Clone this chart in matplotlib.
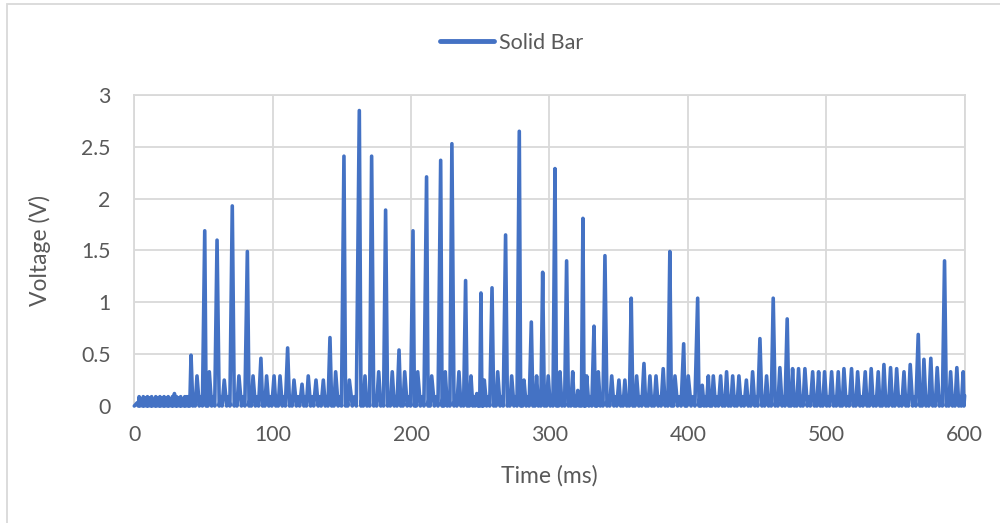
import matplotlib
matplotlib.use("Agg")
import matplotlib.pyplot as plt
from matplotlib.patches import Rectangle
from matplotlib.lines import Line2D

# ---- data (peak time in ms, peak voltage in V) ----
peak_t = [2, 5, 8, 11, 14, 17, 20, 23, 26, 29, 32, 35, 38,
          41.0, 45.3, 50.9, 54.2, 59.8, 65.0, 70.8, 75.6, 81.7, 85.8, 91.5, 95.6,
          101, 105.3, 110.8, 115.4, 121.2, 125.7, 131.3, 136.6, 141.4, 145.5,
          151.5, 155.4, 162.6, 166.7, 171.5, 176.6, 181.6, 186.4, 191.3, 195.4,
          201.4, 204.8, 211.2, 214.9, 221.4, 224.7, 229.5, 234.6, 239.4, 243.3,
          247.5, 250.5, 252.9, 258.5, 262.6, 268.3, 272.7, 278.2, 281.6, 286.9,
          290.7, 295.1, 299.1, 304, 307.6, 312.4, 316.8, 320.5, 324.2, 326.9,
          332.2, 335.3, 340.1, 345, 350.2, 354.5, 359.1, 363, 368.3, 372.6,
          377, 382.2, 387, 390.7, 397, 400.3, 407.1, 410.4, 414.8, 418.4,
          423.7, 428, 432.4, 436.9, 442.3, 446.8, 452.1, 456.9, 461.7, 466.5,
          471.8, 475.7, 480, 484.6, 490.2, 494.5, 498.8, 503.9, 508.7, 512.8,
          518.3, 522.7, 528.2, 532.5, 537.6, 541.7, 546.5, 550.9, 556.2, 560.7,
          566.5, 570.6, 575.6, 580.2, 585.5, 589.9, 594.4, 599]
peak_v = [0.03, 0.05, 0.08, 0.08, 0.05, 0.08, 0.08, 0.08, 0.07, 0.12, 0.08, 0.06, 0.09,
          0.49, 0.29, 1.69, 0.33, 1.60, 0.25, 1.93, 0.29, 1.49, 0.29, 0.46, 0.29,
          0.29, 0.29, 0.56, 0.25, 0.21, 0.29, 0.25, 0.25, 0.66, 0.33,
          2.41, 0.25, 2.85, 0.29, 2.41, 0.33, 1.89, 0.33, 0.54, 0.33,
          1.69, 0.33, 2.21, 0.29, 2.37, 0.33, 2.53, 0.33, 1.21, 0.29,
          0.12, 1.09, 0.25, 1.14, 0.33, 1.65, 0.29, 2.65, 0.25, 0.81,
          0.29, 1.29, 0.29, 2.29, 0.33, 1.40, 0.33, 0.15, 1.81, 0.29,
          0.77, 0.33, 1.45, 0.29, 0.25, 0.25, 1.04, 0.29, 0.41, 0.29,
          0.29, 0.36, 1.49, 0.29, 0.60, 0.29, 1.04, 0.20, 0.29, 0.29,
          0.29, 0.33, 0.29, 0.29, 0.25, 0.33, 0.65, 0.29, 1.04, 0.37,
          0.84, 0.36, 0.36, 0.36, 0.33, 0.33, 0.33, 0.33, 0.33, 0.36,
          0.36, 0.33, 0.33, 0.36, 0.33, 0.40, 0.37, 0.36, 0.33, 0.40,
          0.69, 0.45, 0.46, 0.37, 1.40, 0.33, 0.37, 0.33]
ripple_v = 0.09          # small oscillation level seen between the spikes
series_name = "Solid Bar"
x_ticks = [0, 100, 200, 300, 400, 500, 600]
y_ticks = [0, 0.5, 1, 1.5, 2, 2.5, 3]
y_tick_labels = ["0", "0.5", "1", "1.5", "2", "2.5", "3"]

# ---- build the trace: spikes with a ripple between them ----
xs, ys = [0.0], [0.0]
for i, (t, v) in enumerate(zip(peak_t, peak_v)):
    xs.append(t); ys.append(v)
    nxt = peak_t[i + 1] if i + 1 < len(peak_t) else 600.0
    gap = nxt - t
    if gap > 2.4:
        xs += [t + gap * 0.3, t + gap * 0.5, t + gap * 0.7]
        ys += [0.0, ripple_v, 0.0]
    else:
        xs.append(t + gap * 0.5); ys.append(0.0)
xs.append(600.0); ys.append(0.1)

FONT = ["Lato", "DejaVu Sans"]
TXT = "#595959"
BLUE = "#4472C4"
GRID = "#D9D9D9"

fig = plt.figure(figsize=(10, 5.23), dpi=100)
fig.patch.set_facecolor("white")
# chart-area border (cropped on right and bottom in the reference)
fig.patches.append(Rectangle((7 / 1000, -0.05), 1.2, 1 - 4 / 523 + 0.05,
                             transform=fig.transFigure, fill=False,
                             edgecolor=GRID, linewidth=1.3))

ax = fig.add_axes([134.3 / 1000, 1 - 406 / 523, (964.6 - 134.3) / 1000, (406 - 95) / 523])
ax.plot(xs, ys, color=BLUE, linewidth=2.6, solid_joinstyle="round",
        solid_capstyle="round", clip_on=False, zorder=3)
ax.set_xlim(0, 600)
ax.set_ylim(0, 3)
ax.set_xticks(x_ticks)
ax.set_yticks(y_ticks)
ax.set_yticklabels(y_tick_labels)
ax.grid(True, color=GRID, linewidth=1.3)
ax.set_axisbelow(True)
for s in ax.spines.values():
    s.set_color(GRID)
    s.set_linewidth(1.3)
ax.tick_params(length=0, labelcolor=TXT, labelsize=15.3)
ax.tick_params(axis="x", pad=14)
ax.tick_params(axis="y", pad=17)
for lab in ax.get_xticklabels() + ax.get_yticklabels():
    lab.set_family(FONT)
ax.set_xlabel("Time (ms)", fontsize=16.5, color=TXT, family=FONT, labelpad=14)
ax.set_ylabel("Voltage (V)", fontsize=16.5, color=TXT, family=FONT, labelpad=22)

handle = Line2D([], [], color=BLUE, linewidth=3.5, solid_capstyle="round")
leg = fig.legend([handle], [series_name], loc="center", bbox_to_anchor=(0.512, 1 - 43 / 523),
                 frameon=False, handlelength=2.5, handletextpad=0.25,
                 prop={"family": FONT, "size": 15.5})
for t in leg.get_texts():
    t.set_color(TXT)

fig.savefig("out.png", dpi=100, facecolor="white")
